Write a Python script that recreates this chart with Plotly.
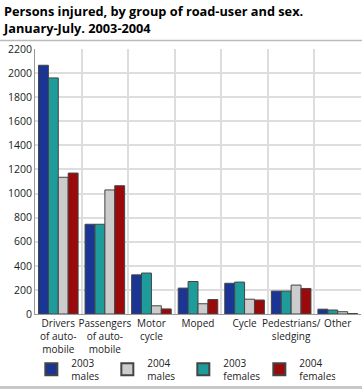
import plotly.graph_objects as go

categories = ["Drivers<br>of auto-<br>mobile", "Passengers<br>of auto-<br>mobile", "Motor<br>cycle",
              "Moped", "Cycle", "Pedestrians/<br>sledging", "Other"]
males_2003 = [2065, 745, 325, 215, 255, 190, 40]
females_2003 = [1960, 745, 340, 270, 265, 190, 33]
males_2004 = [1135, 1030, 68, 85, 123, 240, 19]
females_2004 = [1170, 1065, 42, 120, 116, 212, 4]
series_names = ["2003<br>males", "2003<br>females", "2004<br>males", "2004<br>females"]
series_values = [males_2003, females_2003, males_2004, females_2004]
colors = ["#1B3594", "#1E9C9C", "#CCCCCC", "#9B0A0A"]
legend_rank = [1, 3, 2, 4]
y_ticks = list(range(0, 2201, 200))
title_text = "<b>Persons injured, by group of road-user and sex.<br>January-July. 2003-2004</b>"

fig = go.Figure()
for name, vals, col, rk in zip(series_names, series_values, colors, legend_rank):
    fig.add_trace(go.Bar(x=categories, y=vals, name=name, marker_color=col,
                         marker_line=dict(color="#444444", width=1), legendrank=rk))

# invisible trace on overlay axis to host category-separating gridlines
fig.add_trace(go.Scatter(x=[-0.5, len(categories) - 0.5], y=[0, 0], xaxis="x2",
                         mode="markers", marker=dict(opacity=0), showlegend=False, hoverinfo="skip"))

font_family = "Open Sans, DejaVu Sans, sans-serif"
fig.update_layout(
    width=362, height=389,
    margin=dict(l=35, r=1, t=49, b=75, autoexpand=False),
    paper_bgcolor="white", plot_bgcolor="white",
    barmode="group", bargap=0.15, bargroupgap=0,
    font=dict(family=font_family, size=10.5, color="#222"),
    xaxis=dict(showgrid=False, ticks="", tickangle=0, automargin=False, tickfont=dict(size=10),
               showline=True, linecolor="#999", linewidth=1, mirror=False),
    xaxis2=dict(overlaying="x", range=[-0.5, len(categories) - 0.5], tickmode="array",
                tickvals=[i + 0.5 for i in range(-1, len(categories))], showticklabels=False,
                showgrid=True, gridcolor="#DDDDDD", gridwidth=1.5, zeroline=False, layer="below traces",
                side="bottom", ticks="", automargin=False),
    yaxis=dict(range=[0, 2200], tickvals=y_ticks, showgrid=True, gridcolor="#DDDDDD", gridwidth=1.5,
               zeroline=False, showline=True, linecolor="#999", linewidth=1, ticks="", automargin=False,
               tickfont=dict(size=10.5)),
    legend=dict(orientation="h", x=0.455, xanchor="center", y=-0.135, yanchor="top",
                font=dict(size=10), traceorder="normal", itemsizing="constant",
                entrywidth=31, entrywidthmode="pixels", tracegroupgap=0, bgcolor="rgba(0,0,0,0)"),
    annotations=[dict(text=title_text, xref="paper", yref="paper", x=-0.104, y=1.185,
                      xanchor="left", yanchor="top", align="left", showarrow=False,
                      font=dict(family=font_family, size=12.75, color="#000"))],
    shapes=[
        dict(type="line", xref="paper", yref="paper", x0=-0.11, x1=1.01, y0=1.032, y1=1.032,
             line=dict(color="#BBBBBB", width=1.5)),
        dict(type="line", xref="paper", yref="paper", x0=-0.11, x1=1.01, y0=-0.277, y1=-0.277,
             line=dict(color="#C8C8C8", width=3)),
    ],
)
fig.write_html("out.html", config={"displayModeBar": False},
               post_script="document.body.style.margin='0';document.body.style.overflow='hidden';")
